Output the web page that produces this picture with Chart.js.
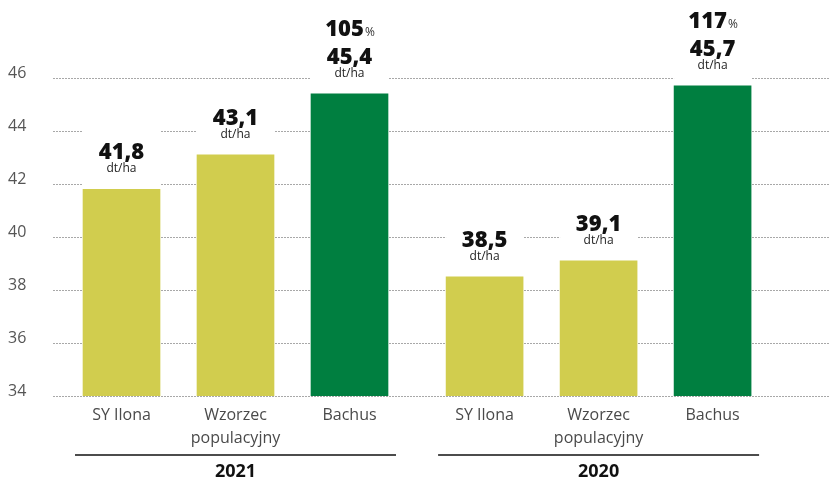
<!DOCTYPE html>
<html>
<head>
<meta charset="utf-8">
<script src="https://cdn.jsdelivr.net/npm/chart.js@4.4.1/dist/chart.umd.min.js"></script>
<style>
  html, body { margin: 0; padding: 0; background: #ffffff; }
  #wrap { width: 830px; height: 479px; position: relative; }
</style>
</head>
<body>
<div id="wrap"><canvas id="chart" width="830" height="479"></canvas></div>
<script>
// ---- data ----
const years = ['2021', '2020'];
const varieties = ['SY Ilona', 'Wzorzec populacyjny', 'Bachus'];
const varietyLabelLines = [['SY Ilona'], ['Wzorzec', 'populacyjny'], ['Bachus']];
const yield2021 = [41.8, 43.1, 45.4];
const yield2020 = [38.5, 39.1, 45.7];
const percent2021 = [null, null, 105];
const percent2020 = [null, null, 117];
const unitLabel = 'dt/ha';
const yTickValues = [34, 36, 38, 40, 42, 44, 46];

// ---- styling / layout ----
const YELLOW = '#D1CD4E';
const GREEN = '#007F40';
const varietyColors = [YELLOW, YELLOW, GREEN];
const GROUP_STEP = 3.185;   // spacing between year groups (in bar steps)
const FONT = "'Open Sans', 'Noto Sans', sans-serif";
const NUM_FONT = '800 22px ' + FONT;

const yieldsByYear = [yield2021, yield2020];
const percentsByYear = [percent2021, percent2020];

const points = [];
const colors = [];
yieldsByYear.forEach((vals, g) => {
  vals.forEach((v, i) => {
    points.push({ x: g * GROUP_STEP + i, y: v });
    colors.push(varietyColors[i]);
  });
});

const fmt = v => v.toFixed(1).replace('.', ',');

const labelPlugin = {
  id: 'labels',
  afterDatasetsDraw(chart) {
    const ctx = chart.ctx;
    const meta = chart.getDatasetMeta(0);
    const area = chart.chartArea;
    ctx.save();
    meta.data.forEach((bar, k) => {
      const g = Math.floor(k / varieties.length);
      const i = k % varieties.length;
      const val = yieldsByYear[g][i];
      const pct = percentsByYear[g][i];
      const half = bar.width / 2;
      // white background behind the value label
      ctx.fillStyle = '#ffffff';
      ctx.fillRect(bar.x - half, bar.y - 66, bar.width, 65);
      ctx.textAlign = 'center';
      ctx.textBaseline = 'alphabetic';
      ctx.fillStyle = '#111111';
      ctx.font = NUM_FONT;
      ctx.fillText(fmt(val), bar.x, bar.y - 30);
      ctx.fillStyle = '#222222';
      ctx.font = '12px ' + FONT;
      ctx.fillText(unitLabel, bar.x, bar.y - 17);
      if (pct !== null) {
        ctx.font = NUM_FONT;
        const numTxt = String(pct);
        const w1 = ctx.measureText(numTxt).width;
        ctx.font = '12px ' + FONT;
        const w2 = ctx.measureText('%').width;
        const startX = bar.x - (w1 + w2) / 2;
        ctx.textAlign = 'left';
        ctx.fillStyle = '#111111';
        ctx.font = NUM_FONT;
        ctx.fillText(numTxt, startX, bar.y - 58);
        ctx.fillStyle = '#333333';
        ctx.font = '12px ' + FONT;
        ctx.fillText('%', startX + w1 + 1, bar.y - 58);
      }
    });

    // category labels under bars
    ctx.textAlign = 'center';
    ctx.textBaseline = 'middle';
    ctx.fillStyle = '#4a4a4a';
    ctx.font = '16px ' + FONT;
    meta.data.forEach((bar, k) => {
      const i = k % varieties.length;
      varietyLabelLines[i].forEach((line, li) => {
        ctx.fillText(line, bar.x, area.bottom + 19 + li * 23);
      });
    });

    // year group lines and labels
    years.forEach((yr, g) => {
      const first = meta.data[g * varieties.length];
      const last = meta.data[g * varieties.length + varieties.length - 1];
      const x0 = first.x - first.width / 2 - 8;
      const x1 = last.x + last.width / 2 + 8;
      ctx.strokeStyle = '#111111';
      ctx.lineWidth = 1.6;
      ctx.beginPath();
      ctx.moveTo(x0, area.bottom + 59);
      ctx.lineTo(x1, area.bottom + 59);
      ctx.stroke();
      ctx.fillStyle = '#111111';
      ctx.font = 'bold 18px ' + FONT;
      ctx.fillText(yr, (x0 + x1) / 2, area.bottom + 76);
    });
    ctx.restore();
  }
};

new Chart(document.getElementById('chart'), {
  type: 'bar',
  data: {
    datasets: [{
      label: 'Plon',
      data: points,
      backgroundColor: colors,
      borderWidth: 0,
      barThickness: 77
    }]
  },
  options: {
    responsive: false,
    animation: false,
    devicePixelRatio: 1,
    layout: { padding: { left: 8, right: 0, top: 78, bottom: 83 } },
    plugins: { legend: { display: false }, tooltip: { enabled: false } },
    scales: {
      x: {
        type: 'linear',
        display: false,
        offset: false,
        min: -0.601,
        max: 6.215
      },
      y: {
        type: 'linear',
        min: yTickValues[0],
        max: yTickValues[yTickValues.length - 1],
        afterFit(scale) { scale.width = 45; },
        afterBuildTicks(scale) { scale.ticks = yTickValues.map(v => ({ value: v })); },
        border: { display: false, dash: [2, 1] },
        grid: { color: '#a8a8a8', lineWidth: 1, drawTicks: false },
        ticks: {
          crossAlign: 'far',
          padding: 0,
          labelOffset: -5,
          color: '#555555',
          font: { family: FONT, size: 16 }
        }
      }
    }
  },
  plugins: [labelPlugin]
});
</script>
</body>
</html>
